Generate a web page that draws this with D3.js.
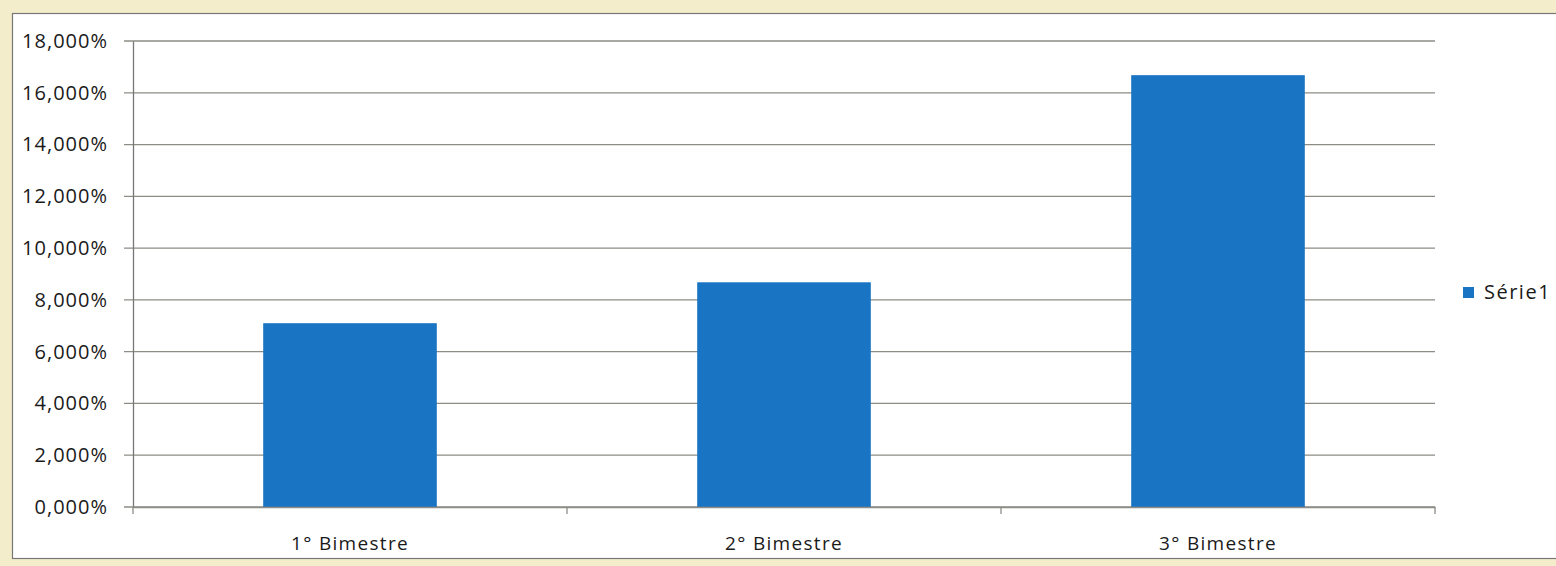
<html>
<head>
<meta charset="UTF-8">
<script src="https://d3js.org/d3.v7.min.js"></script>
<style>
  body { margin: 0; background: #f4edcc; }
  svg { display: block; }
  text { font-family: "Open Sans", Lato, sans-serif; fill: #1a1a1a; }
</style>
</head>
<body>
<svg width="1556" height="566"></svg>
<script>
  // data
  var categories = ["1° Bimestre", "2° Bimestre", "3° Bimestre"];
  var values = [7.1, 8.68, 16.68];
  var yTicks = [0, 2, 4, 6, 8, 10, 12, 14, 16, 18];
  var seriesName = "Série1";

  var margin = { top: 41, left: 133, right: 121, bottom: 59 };
  var width = 1556, height = 566;
  var svg = d3.select("svg");

  // white chart area over beige paper
  svg.append("rect")
    .attr("x", 0).attr("y", 0).attr("width", width).attr("height", height)
    .attr("fill", "#f4edcc");
  svg.append("rect")
    .attr("x", 12.5).attr("y", 13.5).attr("width", width).attr("height", 545)
    .attr("fill", "#ffffff")
    .attr("stroke", "#777").attr("stroke-width", 1.2);

  var x = d3.scaleBand()
    .domain(categories)
    .range([margin.left, width - margin.right])
    .paddingInner(0.6).paddingOuter(0.3);
  var y = d3.scaleLinear()
    .domain([0, 18])
    .range([height - margin.bottom, margin.top]);

  // gridlines
  svg.append("g").selectAll("line")
    .data(yTicks)
    .enter().append("line")
    .attr("x1", margin.left - 9)
    .attr("x2", width - margin.right)
    .attr("y1", function(d){ return y(d); })
    .attr("y2", function(d){ return y(d); })
    .attr("stroke", "#8d8d86").attr("stroke-width", 1.3);

  // y axis
  var yAxis = d3.axisLeft(y)
    .tickValues(yTicks)
    .tickSize(0)
    .tickPadding(25)
    .tickFormat(function(d){ return d3.format(".3f")(d).replace(".", ",") + "%"; });
  var gy = svg.append("g")
    .attr("transform", "translate(" + margin.left + ",0)")
    .call(yAxis);
  gy.select(".domain").attr("stroke", "#777").attr("stroke-width", 1.3);
  gy.selectAll("text").attr("font-size", 20).attr("letter-spacing", 1).attr("fill", "#1a1a1a");

  // bars
  svg.append("g").selectAll("rect")
    .data(values)
    .enter().append("rect")
    .attr("x", function(d, i){ return x(categories[i]); })
    .attr("y", function(d){ return y(d); })
    .attr("width", x.bandwidth())
    .attr("height", function(d){ return y(0) - y(d); })
    .attr("fill", "#1a74c4");

  // x axis
  var step = (width - margin.right - margin.left) / categories.length;
  var xAxis = d3.axisBottom(x).tickSize(0).tickPadding(30);
  var gx = svg.append("g")
    .attr("transform", "translate(0," + y(0) + ")")
    .call(xAxis);
  gx.select(".domain").attr("stroke", "#8d8d86").attr("stroke-width", 1.3);
  gx.selectAll("text").attr("font-size", 19).attr("letter-spacing", 1.3).attr("fill", "#1a1a1a");
  gx.selectAll(".sep")
    .data(d3.range(categories.length + 1))
    .enter().append("line")
    .attr("x1", function(d){ return margin.left + d * step; })
    .attr("x2", function(d){ return margin.left + d * step; })
    .attr("y1", 0).attr("y2", 7)
    .attr("stroke", "#8d8d86").attr("stroke-width", 1.3);

  // legend
  var legend = svg.append("g").attr("transform", "translate(1463,287)");
  legend.append("rect").attr("width", 11).attr("height", 11).attr("fill", "#1a74c4");
  legend.append("text").attr("x", 21).attr("y", 12).attr("font-size", 20)
    .attr("letter-spacing", 1.5).text(seriesName);
</script>
</body>
</html>
